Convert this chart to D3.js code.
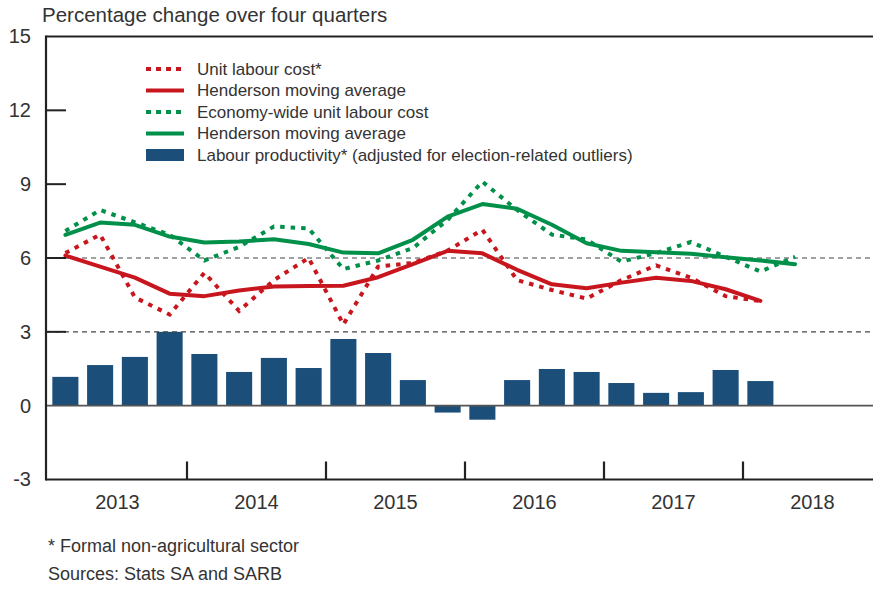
<!DOCTYPE html>
<html>
<head>
<meta charset="utf-8">
<script src="https://cdn.jsdelivr.net/npm/d3@7"></script>
<style>
  html, body { margin: 0; padding: 0; background: #fff; }
  svg { display: block; font-family: "Liberation Sans", Arial, sans-serif; }
</style>
</head>
<body>
<svg id="chart" width="873" height="595"></svg>
<script>
// ---- Data ----
const years = ["2013", "2014", "2015", "2016", "2017", "2018"];
const quarters = years.flatMap(y => ["Q1", "Q2", "Q3", "Q4"].map(q => y + q));
const yTicks = [-3, 0, 3, 6, 9, 12, 15];

const labourProductivity = [1.17, 1.65, 1.98, 3.0, 2.1, 1.37, 1.94, 1.53, 2.71, 2.14, 1.04,
  -0.28, -0.57, 1.04, 1.49, 1.37, 0.92, 0.52, 0.55, 1.45, 1.0];
const unitLabourCost = [6.2, 6.95, 4.4, 3.7, 5.4, 3.85, 5.1, 6.0, 3.3, 5.65, 5.8,
  6.3, 7.15, 5.1, 4.7, 4.35, 5.1, 5.7, 5.2, 4.45, 4.25];
const ulcHenderson = [6.1, 5.65, 5.2, 4.55, 4.45, 4.68, 4.84, 4.86, 4.87, 5.22, 5.75,
  6.29, 6.19, 5.52, 4.93, 4.77, 5.0, 5.2, 5.07, 4.73, 4.26];
const economyWideULC = [7.1, 7.95, 7.45, 6.95, 5.9, 6.45, 7.28, 7.2, 5.55, 5.9, 6.4,
  7.55, 9.1, 7.95, 6.95, 6.75, 5.85, 6.2, 6.65, 6.05, 5.45, 6.05];
const economyHenderson = [6.94, 7.44, 7.35, 6.87, 6.63, 6.67, 6.76, 6.57, 6.22, 6.19, 6.74,
  7.68, 8.19, 8.0, 7.35, 6.6, 6.29, 6.23, 6.17, 6.03, 5.9, 5.75];

const title = "Percentage change over four quarters";
const legendLabels = [
  "Unit labour cost*",
  "Henderson moving average",
  "Economy-wide unit labour cost",
  "Henderson moving average",
  "Labour productivity* (adjusted for election-related outliers)"
];
const footnotes = ["* Formal non-agricultural sector", "Sources: Stats SA and SARB"];

// ---- Style ----
const RED = "#c8161f", GREEN = "#00904a", BLUE = "#1b4e78", INK = "#222", TXT = "#333";
const FONT = "Liberation Sans, Arial, sans-serif";

const svg = d3.select("#chart");
const axisX0 = 46, plotX1 = 873;

const x = d3.scaleBand().domain(quarters).range([48, 48 + 139 * 6])
  .paddingInner(0.25).paddingOuter(0.125);
const xYear = d3.scaleBand().domain(years).range([48, 48 + 139 * 6]);
const y = d3.scaleLinear().domain([-3, 15]).range([479.5, 36.5]);
const cx = i => x(quarters[i]) + x.bandwidth() / 2;

// Bars
svg.append("g").selectAll("rect").data(labourProductivity).join("rect")
  .attr("x", (d, i) => x(quarters[i]))
  .attr("width", x.bandwidth())
  .attr("y", d => y(Math.max(0, d)))
  .attr("height", d => Math.abs(y(d) - y(0)))
  .attr("fill", BLUE);

// Reference dashed lines
[3, 6].forEach(v => {
  svg.append("line").attr("x1", axisX0).attr("x2", plotX1)
    .attr("y1", y(v)).attr("y2", y(v))
    .attr("stroke", "#444").attr("stroke-width", 1.2).attr("stroke-dasharray", "5,4");
});
// Zero line
svg.append("line").attr("x1", axisX0).attr("x2", plotX1)
  .attr("y1", y(0)).attr("y2", y(0)).attr("stroke", "#555").attr("stroke-width", 1.6);

// Lines
const line = d3.line().x((d, i) => cx(i)).y(d => y(d));
function drawLine(data, color, dotted) {
  const p = svg.append("path").datum(data).attr("d", line)
    .attr("fill", "none").attr("stroke", color).attr("stroke-width", 4);
  if (dotted) p.attr("stroke-dasharray", "4.5,6").attr("stroke-linecap", "butt");
  else p.attr("stroke-linejoin", "round").attr("stroke-linecap", "round");
}
drawLine(unitLabourCost, RED, true);
drawLine(ulcHenderson, RED, false);
drawLine(economyWideULC, GREEN, true);
drawLine(economyHenderson, GREEN, false);

// Y axis labels
const yAxis = d3.axisLeft(y).tickValues(yTicks).tickSize(0).tickPadding(15)
  .tickFormat(d => String(d));
const gy = svg.append("g").attr("transform", `translate(${axisX0},0)`).call(yAxis);
gy.select(".domain").remove();
gy.selectAll("text").attr("font-size", 20).attr("fill", TXT).attr("font-family", FONT);

// inward ticks on left axis
svg.append("g").selectAll("line").data([3, 6, 9, 12]).join("line")
  .attr("x1", axisX0).attr("x2", axisX0 + 20)
  .attr("y1", d => y(d)).attr("y2", d => y(d))
  .attr("stroke", INK).attr("stroke-width", 2);

// left, top, bottom lines
svg.append("line").attr("x1", axisX0).attr("x2", axisX0).attr("y1", y(15) - 1).attr("y2", y(-3) + 1)
  .attr("stroke", INK).attr("stroke-width", 2.2);
svg.append("line").attr("x1", axisX0).attr("x2", plotX1).attr("y1", y(15)).attr("y2", y(15))
  .attr("stroke", INK).attr("stroke-width", 2.2);
svg.append("line").attr("x1", axisX0).attr("x2", plotX1).attr("y1", y(-3)).attr("y2", y(-3))
  .attr("stroke", INK).attr("stroke-width", 2.2);

// x axis: year boundary ticks + labels
const xAxis = d3.axisBottom(xYear).tickSize(0).tickPadding(15);
const gx = svg.append("g").attr("transform", `translate(0,${y(-3)})`).call(xAxis);
gx.select(".domain").remove();
gx.selectAll("text").attr("font-size", 20).attr("fill", TXT).attr("font-family", FONT);
svg.append("g").selectAll("line").data(years.slice(1)).join("line")
  .attr("x1", d => xYear(d)).attr("x2", d => xYear(d))
  .attr("y1", y(-3)).attr("y2", y(-3) - 18)
  .attr("stroke", INK).attr("stroke-width", 2.2);

// Title
svg.append("text").attr("x", 42).attr("y", 22).attr("font-size", 20.5).attr("fill", TXT).text(title);

// Legend
const legend = svg.append("g");
const rowY = [69, 90.5, 112, 133.5, 155];
const kinds = [
  { c: RED, t: "dot" }, { c: RED, t: "line" }, { c: GREEN, t: "dot" }, { c: GREEN, t: "line" }, { c: BLUE, t: "bar" }
];
kinds.forEach((k, i) => {
  const yy = rowY[i];
  if (k.t === "bar") {
    legend.append("rect").attr("x", 146).attr("y", yy - 6).attr("width", 38).attr("height", 12).attr("fill", k.c);
  } else {
    const l = legend.append("line").attr("x1", 146).attr("x2", 184).attr("y1", yy).attr("y2", yy)
      .attr("stroke", k.c).attr("stroke-width", 4);
    if (k.t === "dot") l.attr("stroke-dasharray", "5,5");
  }
  legend.append("text").attr("x", 197).attr("y", yy).attr("dy", "0.35em")
    .attr("font-size", 17).attr("fill", TXT).text(legendLabels[i]);
});

// Footnotes
svg.append("text").attr("x", 48).attr("y", 552).attr("font-size", 18).attr("fill", TXT).text(footnotes[0]);
svg.append("text").attr("x", 48).attr("y", 580).attr("font-size", 18).attr("fill", TXT).text(footnotes[1]);
</script>
</body>
</html>
